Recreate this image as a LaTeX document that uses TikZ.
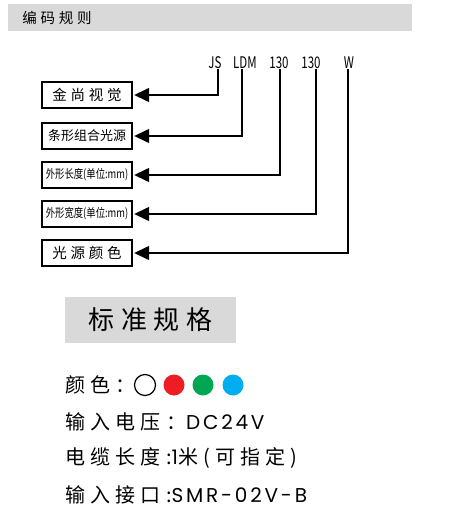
\documentclass[tikz,border=0pt]{standalone}
\usepackage{fontspec}
\setmainfont{Noto Sans CJK SC}
\newfontfamily\cjkwide[LetterSpace=26]{Noto Sans CJK SC}
\newfontfamily\latinwide[LetterSpace=14]{Poppins}
\usetikzlibrary{arrows.meta}
\definecolor{barGray}{HTML}{D9D9D9}
\definecolor{ledRed}{HTML}{EE1C25}
\definecolor{ledGreen}{HTML}{00A651}
\definecolor{ledBlue}{HTML}{00AEEF}
\begin{document}
\begin{tikzpicture}[x=1pt,y=-1pt, semithick]
    \tikzset{part/.style={draw=black,line width=1.4pt,minimum width=90pt,minimum height=26pt,inner sep=0pt},
             code/.style={inner sep=0pt,font=\fontsize{16}{16}\selectfont},
             conn/.style={line width=1.4pt,-{Triangle[length=15pt,width=14pt]},shorten >=1.5pt},
             spec/.style={anchor=west,inner sep=0pt,font=\cjkwide\fontsize{20}{20}\selectfont},
             led/.style={circle,minimum size=21pt,inner sep=0pt}};
    \useasboundingbox (0,0) rectangle (468,521);
    % header bar
    \fill[barGray] (8,4) rectangle (412,31);
    \node[anchor=west,inner sep=0pt,font=\cjkwide\fontsize{14.5}{14.5}\selectfont] (sTitle) at (22,18) {编码规则};
    % code string
    \node[code] (cJS) at (215,63) {\scalebox{0.72}[1]{JS}};
    \node[code] (cLDM) at (245,63) {\scalebox{0.72}[1]{LDM}};
    \node[code] (cLen) at (279,63) {\scalebox{0.72}[1]{130}};
    \node[code] (cWid) at (311,63) {\scalebox{0.72}[1]{130}};
    \node[code] (cCol) at (349,63) {\scalebox{0.72}[1]{W}};
    \coordinate (pJS) at (218,69);
    \coordinate (pLDM) at (242,69);
    \coordinate (pLen) at (280,69);
    \coordinate (pWid) at (316,69);
    \coordinate (pCol) at (348,69);
    % parts
    \node[part] (bBrand) at (87,95) {\cjkwide\fontsize{14.5}{14.5}\selectfont 金尚视觉};
    \node[part] (bType) at (87,136) {\fontsize{13}{13}\selectfont 条形组合光源};
    \node[part] (bLen) at (87,175) {\scalebox{0.78}[1]{\fontsize{12}{12}\selectfont 外形长度(单位:mm)}};
    \node[part] (bWid) at (87,214) {\scalebox{0.78}[1]{\fontsize{12}{12}\selectfont 外形宽度(单位:mm)}};
    \node[part] (bCol) at (87,253) {\cjkwide\fontsize{14.5}{14.5}\selectfont 光源颜色};
    {
       \path[conn]
        (pJS) edge[to path={|- (\tikztotarget)}] (bBrand.east)
        (pLDM) edge[to path={|- (\tikztotarget)}] (bType.east)
        (pLen) edge[to path={|- (\tikztotarget)}] (bLen.east)
        (pWid) edge[to path={|- (\tikztotarget)}] (bWid.east)
        (pCol) edge[to path={|- (\tikztotarget)}] (bCol.east)
        ;
    }
    % standard specs
    \node[fill=barGray,minimum width=171pt,minimum height=46pt,inner sep=0pt,font=\cjkwide\fontsize{26}{26}\selectfont] (sHead) at (150.5,320) {标准规格};
    \node[spec] (sColor) at (65,385) {颜色：};
    \node[led,draw=black,line width=1.2pt] (lWhite) at (145,385) {};
    \node[led,fill=ledRed] (lRed) at (174,385) {};
    \node[led,fill=ledGreen] (lGreen) at (203,385) {};
    \node[led,fill=ledBlue] (lBlue) at (233,385) {};
    \node[spec] (sVolt) at (65,422) {输入电压：{\latinwide DC24V}};
    \node[spec] (sCable) at (65,458) {电缆长度:{\latinwide 1}米(可指定)};
    \node[spec] (sPort) at (65,495) {输入接口:{\latinwide SMR-02V-B}};
\end{tikzpicture}
\end{document}
